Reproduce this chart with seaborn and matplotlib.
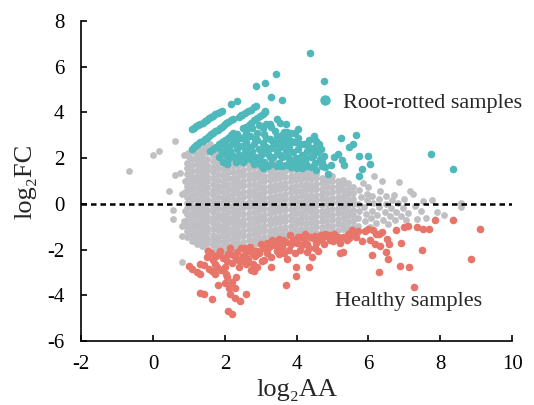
import numpy as np
import pandas as pd
import matplotlib
matplotlib.use('Agg')
import matplotlib.pyplot as plt
import seaborn as sns
from matplotlib.lines import Line2D

sns.set_style('ticks')
plt.rcParams['font.family'] = ['Liberation Serif', 'DejaVu Serif']
plt.rcParams['axes.unicode_minus'] = False

TEAL = '#4fb8bb'
RED = '#e8756a'
GREY = '#c0c0c4'

# up-regulated in root-rotted samples (log2AA, log2FC)
teal_pts = [
    # diagonal streaks
    (1.08, 3.28), (1.14, 3.33), (1.20, 3.39), (1.26, 3.45), (1.32, 3.50), (1.38, 3.56), (1.44, 3.62),
    (1.50, 3.68), (1.56, 3.74), (1.62, 3.79), (1.68, 3.86), (1.74, 3.92), (1.80, 3.97), (1.86, 4.03), (1.92, 4.08),
    (1.08, 2.42), (1.14, 2.50), (1.20, 2.57), (1.26, 2.63), (1.32, 2.70), (1.38, 2.77), (1.44, 2.84),
    (1.50, 2.90), (1.56, 2.97), (1.62, 3.04), (1.68, 3.11), (1.74, 3.18), (1.80, 3.24), (1.86, 3.31),
    (1.92, 3.38), (1.98, 3.45), (2.04, 3.52), (2.10, 3.59), (2.16, 3.65), (2.22, 3.72),
    (2.40, 3.80), (2.48, 3.88), (2.56, 3.97), (2.64, 4.05), (2.72, 4.13), (2.80, 4.22), (2.86, 4.28),
    (2.50, 3.30), (2.58, 3.38), (2.66, 3.47), (2.74, 3.56), (2.82, 3.65), (2.90, 3.74), (2.98, 3.83),
    (3.06, 3.92), (3.13, 4.02),
    (1.60, 2.30), (1.68, 2.40), (1.76, 2.50), (1.84, 2.60), (1.92, 2.70), (2.00, 2.80), (2.08, 2.90),
    (2.16, 3.00), (2.24, 3.10),
    # main cluster
    (1.85, 2.05), (1.95, 1.85), (2.0, 2.2), (2.05, 2.45), (2.1, 1.95), (2.15, 2.3), (2.2, 2.6), (2.25, 2.05),
    (2.3, 1.85), (2.3, 2.75), (2.35, 2.4), (2.4, 2.15), (2.45, 2.9), (2.5, 2.55), (2.55, 2.25), (2.6, 2.7),
    (2.6, 1.95), (2.65, 2.45), (2.7, 2.95), (2.75, 2.3), (2.8, 2.6), (2.8, 1.75), (2.85, 2.05), (2.9, 2.8),
    (2.95, 2.4), (3.0, 1.7), (3.0, 2.15), (3.05, 2.65), (3.1, 3.05), (3.1, 1.85), (3.15, 2.5), (3.2, 2.2),
    (3.25, 2.85), (3.3, 2.45), (3.3, 1.75), (3.35, 2.05), (3.4, 2.6), (3.4, 3.2), (3.45, 2.3), (3.5, 1.8),
    (3.5, 2.8), (3.55, 2.5), (3.6, 2.05), (3.6, 3.0), (3.65, 2.6), (3.7, 1.7), (3.7, 2.3), (3.75, 2.85),
    (3.8, 1.95), (3.8, 2.55), (3.85, 3.1), (3.9, 1.75), (3.9, 2.25), (3.95, 2.7), (4.0, 1.55), (4.0, 2.0),
    (4.05, 2.4), (4.1, 1.85), (4.15, 2.15), (4.2, 2.6), (4.25, 1.75), (4.3, 2.3), (4.35, 2.8), (4.4, 1.6),
    (4.45, 2.1), (4.5, 2.5), (4.55, 1.5), (4.6, 2.25), (4.7, 1.85), (4.75, 2.1), (4.8, 1.6), (3.15, 3.5),
    (3.3, 3.35), (2.95, 3.45), (2.6, 3.15), (2.2, 2.9), (2.9, 3.1), (3.55, 3.55), (3.65, 3.15), (3.95, 3.1),
    (2.45, 2.05), (2.7, 2.15), (3.2, 1.65), (3.45, 1.65), (3.85, 1.6), (4.15, 1.55), (2.35, 3.05), (2.0, 2.6),
    (1.9, 2.35),
    (2.05, 1.75), (2.2, 2.15), (2.4, 2.55), (2.5, 1.85), (2.7, 2.5), (2.75, 1.9), (2.95, 1.9), (3.05, 2.35),
    (3.15, 2.9), (3.25, 2.05), (3.35, 2.7), (3.45, 2.95), (3.55, 2.15), (3.6, 1.65), (3.75, 2.05),
    (3.75, 2.45), (3.85, 2.75), (3.95, 1.95), (4.05, 2.9), (4.1, 2.6), (4.2, 2.05), (4.3, 1.65), (4.35, 2.5),
    (4.5, 1.8), (4.55, 2.75), (4.65, 1.95), (2.55, 2.95), (2.85, 2.85), (3.05, 1.55), (3.65, 2.85),
    # outer points
    (4.37, 6.62), (3.43, 5.70), (4.76, 5.37), (3.12, 5.31), (2.86, 5.15), (3.28, 4.68), (3.59, 4.54),
    (2.17, 4.36), (2.33, 4.51), (2.46, 3.88), (3.12, 4.05), (3.44, 3.70), (3.69, 3.50), (4.03, 3.27),
    (3.72, 3.15), (3.07, 3.30), (3.27, 3.49), (2.75, 3.31), (4.47, 2.98), (5.23, 2.87), (5.65, 3.00),
    (5.46, 2.48), (5.58, 2.61), (5.74, 2.09), (5.98, 2.09), (6.05, 1.74), (5.83, 1.52), (5.73, 1.21),
    (5.03, 2.06), (5.16, 2.20), (5.26, 1.91), (5.33, 1.69), (4.96, 1.72), (4.88, 1.30), (4.71, 1.66),
    (4.63, 2.64), (4.68, 2.41), (4.48, 2.32), (4.41, 2.06), (4.22, 1.91), (7.74, 2.20), (8.36, 1.52),
]

# up-regulated in healthy samples
red_pts = [
    (0.99, -2.71), (1.08, -2.83), (1.22, -2.98), (1.31, -3.08), (1.31, -2.61), (1.42, -2.68), (1.55, -2.87),
    (1.65, -2.93), (1.73, -3.05), (1.31, -3.92), (1.42, -3.95), (1.65, -4.17), (1.82, -3.56), (2.15, -3.95),
    (2.29, -4.11), (2.42, -4.26), (2.59, -3.95), (2.10, -4.68), (2.21, -4.83), (2.01, -2.76), (2.07, -3.19),
    (2.19, -3.41), (2.31, -3.22), (2.29, -3.66), (2.02, -3.05), (1.50, -2.32), (1.61, -2.17), (1.76, -2.29),
    (1.87, -2.06), (1.54, -2.06), (1.68, -2.44), (1.74, -2.61), (2.24, -2.25), (2.15, -1.95), (2.38, -2.46),
    (2.52, -2.29), (2.70, -1.88), (2.75, -2.17), (2.45, -1.95), (2.59, -2.61), (2.72, -2.90), (2.81, -2.93),
    (2.91, -2.76), (2.79, -2.61), (3.03, -2.49), (2.96, -2.17), (3.07, -1.95), (3.30, -2.32), (3.28, -2.76),
    (3.17, -2.17), (3.44, -2.06), (3.39, -1.78), (3.32, -1.59), (3.17, -1.71), (3.53, -1.81), (3.61, -1.56),
    (3.72, -2.39), (3.70, -3.56), (3.98, -3.16), (3.98, -2.76), (3.95, -2.17), (3.82, -1.37), (3.91, -1.59),
    (4.05, -1.47), (4.14, -1.81), (4.23, -1.30), (4.37, -1.44), (4.28, -2.10), (4.34, -2.76), (4.42, -2.32),
    (4.51, -1.95), (4.63, -1.59), (4.67, -1.37), (4.79, -1.30), (4.93, -1.56), (5.02, -1.62), (5.21, -1.69),
    (5.30, -1.44), (5.44, -1.30), (5.53, -1.15), (5.72, -1.20), (5.21, -2.17), (5.30, -2.10), (5.39, -1.59),
    (5.83, -1.63), (6.00, -1.08), (6.12, -1.15), (6.05, -1.56), (6.17, -1.74), (6.33, -1.85), (6.30, -1.30),
    (6.39, -1.22), (6.51, -1.52), (6.56, -1.74), (6.48, -2.10), (6.54, -2.39), (6.11, -2.25), (6.30, -2.98),
    (6.78, -1.15), (6.92, -1.71), (6.87, -2.71), (7.13, -2.76), (7.00, -1.01), (7.11, -0.98), (7.34, -1.01),
    (7.51, -1.11), (7.69, -1.11), (7.85, -0.69), (8.36, -0.71), (9.10, -1.12), (8.85, -2.39), (7.49, -2.03),
    (7.27, -3.63),
    (1.85, -2.2), (1.95, -2.35), (2.05, -2.5), (2.1, -2.2), (2.2, -2.6), (2.3, -2.35), (2.35, -2.1),
    (2.4, -2.75), (2.5, -2.5), (2.6, -2.1), (2.65, -2.4), (2.85, -2.3), (2.9, -2.05), (3.1, -2.45),
    (3.2, -1.95), (3.4, -1.65), (3.5, -2.2), (3.6, -1.9), (3.7, -1.65), (3.8, -2.0), (4.0, -1.7),
    (4.1, -2.0), (4.2, -1.55), (4.3, -1.75), (4.45, -1.5), (4.55, -1.7), (4.6, -2.05), (4.7, -1.5),
    (4.85, -1.4), (5.1, -1.5), (5.6, -1.3), (5.9, -1.2), (6.2, -1.3), (2.0, -3.45), (2.12, -3.7),
    (1.9, -2.9), (1.78, -2.75),
    (3.0, -1.75), (3.25, -1.85), (3.5, -1.55), (3.65, -2.15), (3.85, -1.75), (4.1, -1.45), (4.35, -1.95),
    (4.5, -1.4), (4.75, -1.75), (4.9, -1.35), (5.05, -1.3), (5.15, -1.45), (5.45, -1.5), (5.65, -1.45),
    (2.8, -2.05), (2.55, -1.95),
]

# not significant: dense core read column by column (log2AA: log2FC values)
grey_cols = {
    0.95: "-1.45 -1.2 -0.95 -0.7 -0.45 -0.2 0.05 0.3 0.55 0.8 1.05 1.3 1.55 1.8",
    1.08: "-1.62 -1.38 -1.12 -0.88 -0.62 -0.38 -0.12 0.15 0.4 0.65 0.9 1.17 1.42 1.68 1.95",
    1.22: "-1.75 -1.5 -1.27 -1.02 -0.78 -0.52 -0.28 -0.03 0.22 0.47 0.72 0.98 1.23 1.48 1.73 1.98 2.15",
    1.37: "-1.85 -1.62 -1.38 -1.13 -0.9 -0.65 -0.4 -0.15 0.1 0.35 0.6 0.85 1.1 1.35 1.6 1.85 2.1 2.28",
    1.51: "-1.97 -1.73 -1.48 -1.25 -1.0 -0.77 -0.52 -0.27 -0.02 0.23 0.48 0.73 0.98 1.22 1.47 1.72 1.97 2.25",
    1.66: "-2.05 -1.82 -1.58 -1.35 -1.1 -0.85 -0.6 -0.37 -0.12 0.13 0.38 0.62 0.88 1.12 1.38 1.63 1.88 2.12 2.3",
    1.80: "-2.1 -1.87 -1.63 -1.4 -1.15 -0.92 -0.68 -0.43 -0.2 0.05 0.3 0.55 0.8 1.05 1.3 1.55 1.8 2.05 2.22",
    1.95: "-2.12 -1.9 -1.67 -1.42 -1.18 -0.95 -0.7 -0.47 -0.22 0.02 0.27 0.52 0.77 1.02 1.27 1.52 1.77 2.0 2.12",
    2.09: "-2.05 -1.8 -1.55 -1.32 -1.08 -0.83 -0.6 -0.35 -0.1 0.15 0.4 0.63 0.88 1.13 1.38 1.62 1.85 2.05",
    2.23: "-2.0 -1.77 -1.52 -1.28 -1.05 -0.8 -0.57 -0.32 -0.08 0.17 0.42 0.67 0.9 1.15 1.4 1.65 1.88 2.02",
    2.38: "-1.95 -1.7 -1.47 -1.22 -0.98 -0.75 -0.5 -0.27 -0.02 0.22 0.47 0.72 0.95 1.2 1.45 1.7 1.95",
    2.52: "-1.9 -1.65 -1.42 -1.18 -0.93 -0.7 -0.45 -0.2 0.03 0.28 0.52 0.77 1.02 1.25 1.5 1.75 1.97",
    2.67: "-1.85 -1.6 -1.37 -1.12 -0.88 -0.63 -0.4 -0.15 0.1 0.33 0.58 0.82 1.07 1.3 1.55 1.8 1.95",
    2.81: "-1.8 -1.57 -1.32 -1.08 -0.83 -0.6 -0.35 -0.1 0.13 0.38 0.62 0.87 1.12 1.35 1.6 1.85",
    2.96: "-1.72 -1.48 -1.25 -1.0 -0.77 -0.52 -0.28 -0.05 0.2 0.43 0.68 0.92 1.17 1.4 1.65 1.88",
    3.10: "-1.67 -1.43 -1.2 -0.95 -0.72 -0.47 -0.23 0.02 0.25 0.5 0.73 0.98 1.22 1.47 1.7 1.85",
    3.25: "-1.6 -1.37 -1.13 -0.9 -0.65 -0.42 -0.18 0.07 0.3 0.55 0.78 1.03 1.27 1.5 1.75",
    3.39: "-1.57 -1.32 -1.08 -0.85 -0.6 -0.37 -0.12 0.12 0.35 0.6 0.83 1.08 1.32 1.55 1.8",
    3.54: "-1.52 -1.28 -1.05 -0.8 -0.57 -0.32 -0.08 0.17 0.4 0.65 0.88 1.13 1.37 1.6 1.75",
    3.68: "-1.47 -1.23 -1.0 -0.75 -0.52 -0.28 -0.03 0.2 0.45 0.68 0.93 1.17 1.42 1.68",
    3.83: "-1.42 -1.18 -0.95 -0.7 -0.47 -0.22 0.02 0.25 0.5 0.73 0.98 1.22 1.47 1.65",
    3.97: "-1.37 -1.13 -0.9 -0.67 -0.42 -0.18 0.07 0.3 0.55 0.78 1.03 1.27 1.52",
    4.12: "-1.33 -1.1 -0.85 -0.62 -0.38 -0.13 0.1 0.35 0.58 0.83 1.07 1.3 1.55",
    4.26: "-1.3 -1.05 -0.82 -0.57 -0.33 -0.1 0.15 0.38 0.63 0.87 1.12 1.35 1.5",
    4.41: "-1.32 -1.08 -0.85 -0.6 -0.37 -0.12 0.12 0.35 0.6 0.83 1.08 1.32",
    4.55: "-1.28 -1.03 -0.8 -0.55 -0.32 -0.07 0.17 0.4 0.65 0.88 1.12 1.3",
    4.70: "-1.25 -1.02 -0.77 -0.53 -0.3 -0.05 0.2 0.43 0.67 0.92 1.15",
    4.84: "-1.22 -0.98 -0.73 -0.5 -0.25 0.0 0.23 0.47 0.72 0.95 1.15",
    4.99: "-1.2 -0.95 -0.72 -0.47 -0.23 0.02 0.27 0.5 0.75 0.98 1.2",
    5.14: "-1.15 -0.9 -0.65 -0.4 -0.18 0.08 0.32 0.55 0.8 1.02",
    5.29: "-1.12 -0.88 -0.62 -0.38 -0.12 0.12 0.35 0.6 0.85 1.05",
    5.44: "-1.05 -0.8 -0.55 -0.3 -0.07 0.18 0.42 0.65 0.9",
    5.58: "-1.0 -0.77 -0.5 -0.27 -0.02 0.22 0.47 0.72",
}

# scattered non-significant points outside the core
grey_pts = [
    (-0.68, 1.44), (0.01, 2.13), (0.16, 2.30), (0.6, 2.74), (0.45, 0.55), (0.57, -0.25), (0.57, -0.67),
    (0.80, -0.98), (0.80, -1.41), (0.80, -2.54), (0.62, 1.27), (0.74, 1.35), (0.80, 0.45), (0.88, 0.5),
    (0.88, -0.3), (0.85, 2.14), (0.98, 2.23), (0.9, 1.0), (0.85, -0.75),
    (1.0, 2.05), (1.15, 2.25), (1.3, 2.35), (1.45, 2.5), (1.6, 2.62),
    (5.7, -0.95), (5.72, -0.6), (5.75, -0.3), (5.7, 0.0), (5.78, 0.3), (5.73, 0.6), (5.85, 0.9),
    (5.9, -0.75), (5.92, -0.45), (5.88, -0.15), (5.95, 0.15), (5.97, 0.45), (6.0, 0.75), (6.05, -1.0),
    (6.08, -0.6), (6.1, -0.3), (6.12, 0.05), (6.1, 0.35), (6.15, 1.2), (6.22, -0.85), (6.25, -0.5),
    (6.28, -0.15), (6.3, 0.2), (6.32, 0.55), (6.38, 1.0), (6.4, -0.7), (6.45, -0.35), (6.48, 0.0),
    (6.5, 0.35), (6.55, -0.9), (6.6, -0.55), (6.62, -0.2), (6.65, 0.15), (6.7, 0.4), (6.75, -0.7),
    (6.78, -0.35), (6.82, 0.05), (6.86, 0.96), (6.9, -0.55), (6.95, -0.2), (7.0, 0.2), (7.05, -0.7),
    (7.1, -0.4), (7.16, 0.57), (7.25, 0.45), (7.3, -0.1), (7.34, -0.64), (7.45, -0.3), (7.53, 0.12),
    (7.59, -0.6), (7.78, 0.16), (7.9, -0.35), (8.1, -0.5), (8.57, 0.04), (8.59, -0.13),
]

rows = []
for x, ys in grey_cols.items():
    for y in ys.split():
        rows.append((x, float(y), 'ns'))
rows += [(x, y, 'ns') for x, y in grey_pts]
rows += [(x, y, 'up') for x, y in teal_pts]
rows += [(x, y, 'down') for x, y in red_pts]
df = pd.DataFrame(rows, columns=['A', 'M', 'group'])

fig = plt.figure(figsize=(5.34, 4.05), dpi=100)
ax = fig.add_axes([0.152, 0.158, 0.807, 0.79])

sns.scatterplot(data=df[df.group == 'ns'], x='A', y='M', color=GREY, s=24, linewidth=0, ax=ax)
sns.scatterplot(data=df[df.group == 'up'], x='A', y='M', color=TEAL, s=30, linewidth=0, ax=ax)
sns.scatterplot(data=df[df.group == 'down'], x='A', y='M', color=RED, s=30, linewidth=0, ax=ax)

ax.axhline(0, color='black', linestyle=(0, (2.2, 1.6)), linewidth=1.8, zorder=5)

ax.set_xlim(-2, 10)
ax.set_ylim(-6, 8)
ax.set_xticks(np.arange(-2, 11, 2))
ax.set_yticks(np.arange(-6, 9, 2))
sns.despine(ax=ax)
for sp in ax.spines.values():
    sp.set_linewidth(1.2)
    sp.set_color('black')
ax.tick_params(direction='in', length=4, width=1.2, labelsize=15, colors='black')
ax.tick_params(axis='x', pad=10)
ax.tick_params(axis='y', pad=12)
ax.set_xlabel('log₂AA', fontsize=19, labelpad=4)
ax.set_ylabel('log₂FC', fontsize=19, labelpad=8)

handle = Line2D([], [], marker='o', linestyle='none', markersize=6.5, color=TEAL)
ax.legend([handle], ['Root-rotted samples'], loc='center left', bbox_to_anchor=(0.52, 0.745),
          frameon=False, fontsize=16, handletextpad=0.3, handlelength=1.0, borderaxespad=0)
ax.text(5.07, -4.26, 'Healthy samples', fontsize=16, va='center', ha='left')

fig.savefig('out.png', dpi=100)
